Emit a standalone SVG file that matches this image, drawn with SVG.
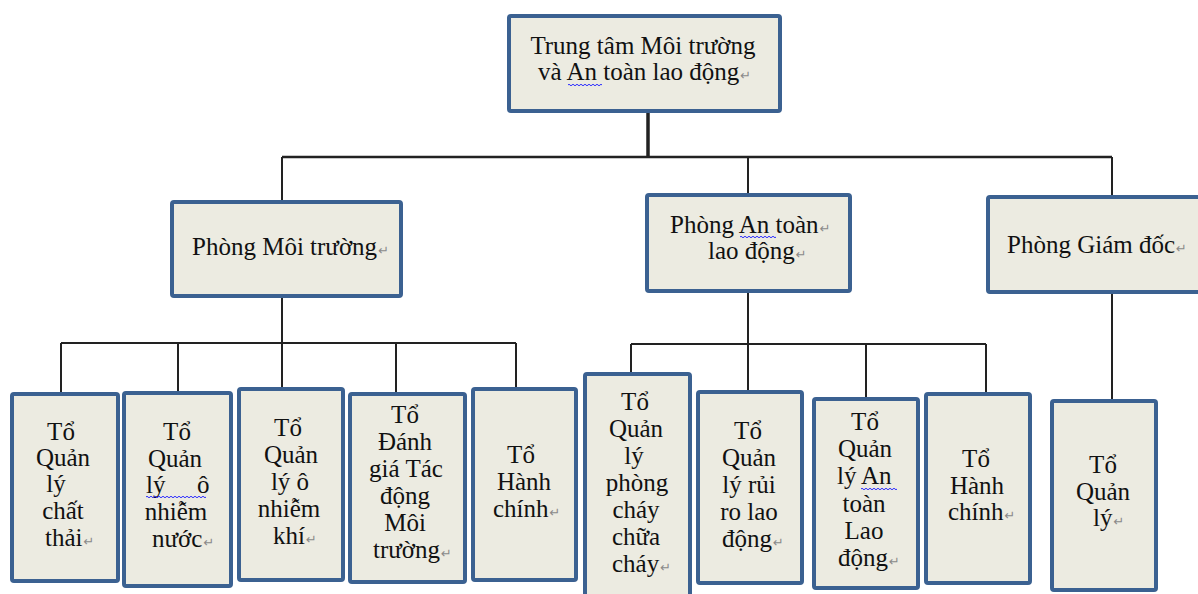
<svg xmlns="http://www.w3.org/2000/svg" width="1198" height="594" viewBox="0 0 1198 594">
<style>
.box{fill:#ecebe1;stroke:#3b6191;stroke-width:4}
.t{font-family:"Liberation Serif","Times New Roman",serif;font-size:25px;fill:#111}
.m{text-anchor:middle}
.r{font-family:"DejaVu Sans",sans-serif;font-size:13px;fill:#8a8a8a}
.w{fill:none;stroke:#2b2bff;stroke-width:1}
.c{fill:none;stroke:#222;stroke-width:2}
</style>
<rect width="1198" height="594" fill="#ffffff"/>
<g id="connectors">
<path class="c" d="M648 113 V157" style="stroke-width:3.5"/>
<path class="c" d="M282 157 H1112" style="stroke-width:2.5"/>
<path class="c" d="M282 157 V200 M748 157 V193 M1112 157 V195"/>
<path class="c" d="M282 298 V343 M61 343 H516 M61 343 V392 M178 343 V391 M282 343 V387 M396 343 V392 M516 343 V387"/>
<path class="c" d="M748 293 V344 M631 344 H986 M631 344 V372 M748 344 V390 M866 344 V397 M986 344 V392"/>
<path class="c" d="M1112 294 V399"/>
</g>
<g id="n-top">
<rect class="box" x="509" y="16" width="271" height="95" rx="2"/>
<text class="t m" x="643" y="54">Trung tâm Môi trường</text>
<text class="t" x="538" y="80">và An toàn lao động<tspan class="r" dx="1">↵</tspan></text>
<path class="w" d="M568 85 q1 -1.5 2 0 t2 0 t2 0 t2 0 t2 0 t2 0 t2 0 t2 0 t2 0 t2 0 t2 0 t2 0 t2 0 t2 0 t2 0 t2 0 t2 0"/>
</g>
<g id="n-pmt">
<rect class="box" x="172" y="202" width="229" height="94" rx="2"/>
<text class="t" x="192" y="255">Phòng Môi trường<tspan class="r" dx="1">↵</tspan></text>
</g>
<g id="n-pat">
<rect class="box" x="647" y="195" width="203" height="96" rx="2"/>
<text class="t" x="670" y="233">Phòng An toàn<tspan class="r" dx="1">↵</tspan></text>
<text class="t" x="708" y="259">lao động<tspan class="r" dx="1">↵</tspan></text>
<path class="w" d="M740 237 q1 -1.5 2 0 t2 0 t2 0 t2 0 t2 0 t2 0 t2 0 t2 0 t2 0 t2 0 t2 0 t2 0 t2 0 t2 0 t2 0 t2 0 t2 0 t2 0"/>
</g>
<g id="n-pgd">
<rect class="box" x="988" y="197" width="230" height="95" rx="2"/>
<text class="t" x="1007" y="253">Phòng Giám đốc<tspan class="r" dx="1">↵</tspan></text>
</g>
<g id="n-b1">
<rect class="box" x="12" y="394" width="106" height="187" rx="2"/>
<text class="t m" x="61" y="440">Tổ</text>
<text class="t m" x="63" y="466">Quản</text>
<text class="t m" x="56" y="492">lý</text>
<text class="t m" x="63" y="519">chất</text>
<text class="t" x="45" y="546">thải<tspan class="r" dx="1">↵</tspan></text>
</g>
<g id="n-b2">
<rect class="box" x="124" y="393" width="107" height="193" rx="2"/>
<text class="t m" x="177" y="440">Tổ</text>
<text class="t m" x="175" y="467">Quản</text>
<text class="t" x="146" y="493">lý</text>
<text class="t" x="197" y="493">ô</text>
<path class="w" d="M146 497 q1 -1.5 2 0 t2 0 t2 0 t2 0 t2 0 t2 0 t2 0 t2 0 t2 0 t2 0 t2 0 t2 0 t2 0 t2 0 t2 0 t2 0 t2 0 t2 0 t2 0 t2 0 t2 0 t2 0 t2 0 t2 0 t2 0 t2 0 t2 0 t2 0 t2 0 t2 0"/>
<text class="t m" x="176" y="520">nhiễm</text>
<text class="t" x="152" y="547">nước<tspan class="r" dx="1">↵</tspan></text>
</g>
<g id="n-b3">
<rect class="box" x="239" y="389" width="104" height="191" rx="2"/>
<text class="t m" x="288" y="436">Tổ</text>
<text class="t m" x="291" y="463">Quản</text>
<text class="t m" x="290" y="490">lý ô</text>
<text class="t m" x="289" y="517">nhiễm</text>
<text class="t" x="273" y="544">khí<tspan class="r" dx="1">↵</tspan></text>
</g>
<g id="n-b4">
<rect class="box" x="350" y="394" width="115" height="188" rx="2"/>
<text class="t m" x="405" y="423">Tổ</text>
<text class="t m" x="405" y="450">Đánh</text>
<text class="t m" x="406" y="477">giá Tác</text>
<text class="t m" x="405" y="504">động</text>
<text class="t m" x="405" y="531">Môi</text>
<text class="t" x="373" y="558">trường<tspan class="r" dx="1">↵</tspan></text>
</g>
<g id="n-b5">
<rect class="box" x="473" y="389" width="103" height="191" rx="2"/>
<text class="t m" x="521" y="463">Tổ</text>
<text class="t m" x="524" y="490">Hành</text>
<text class="t" x="493" y="517">chính<tspan class="r" dx="1">↵</tspan></text>
</g>
<g id="n-b6">
<rect class="box" x="585" y="374" width="105" height="230" rx="2"/>
<text class="t m" x="635" y="410">Tổ</text>
<text class="t m" x="636" y="437">Quản</text>
<text class="t m" x="634" y="464">lý</text>
<text class="t m" x="637" y="491">phòng</text>
<text class="t m" x="636" y="518">cháy</text>
<text class="t m" x="636" y="545">chữa</text>
<text class="t" x="612" y="572">cháy<tspan class="r" dx="1">↵</tspan></text>
</g>
<g id="n-b7">
<rect class="box" x="698" y="392" width="104" height="191" rx="2"/>
<text class="t m" x="748" y="439">Tổ</text>
<text class="t m" x="749" y="466">Quản</text>
<text class="t m" x="749" y="493">lý rủi</text>
<text class="t m" x="749" y="520">ro lao</text>
<text class="t" x="722" y="547">động<tspan class="r" dx="1">↵</tspan></text>
</g>
<g id="n-b8">
<rect class="box" x="814" y="399" width="104" height="189" rx="2"/>
<text class="t m" x="865" y="430">Tổ</text>
<text class="t m" x="865" y="457">Quản</text>
<text class="t" x="837" y="484">lý</text>
<text class="t" x="861" y="484">An</text>
<path class="w" d="M861 489 q1 -1.5 2 0 t2 0 t2 0 t2 0 t2 0 t2 0 t2 0 t2 0 t2 0 t2 0 t2 0 t2 0 t2 0 t2 0 t2 0 t2 0 t2 0 t2 0"/>
<text class="t m" x="864" y="512">toàn</text>
<text class="t m" x="864" y="539">Lao</text>
<text class="t" x="838" y="566">động<tspan class="r" dx="1">↵</tspan></text>
</g>
<g id="n-b9">
<rect class="box" x="926" y="394" width="104" height="189" rx="2"/>
<text class="t m" x="976" y="467">Tổ</text>
<text class="t m" x="977" y="494">Hành</text>
<text class="t" x="948" y="520">chính<tspan class="r" dx="1">↵</tspan></text>
</g>
<g id="n-b10">
<rect class="box" x="1052" y="401" width="104" height="189" rx="2"/>
<text class="t m" x="1103" y="473">Tổ</text>
<text class="t m" x="1103" y="500">Quản</text>
<text class="t" x="1093" y="526">lý<tspan class="r" dx="1">↵</tspan></text>
</g>
</svg>
